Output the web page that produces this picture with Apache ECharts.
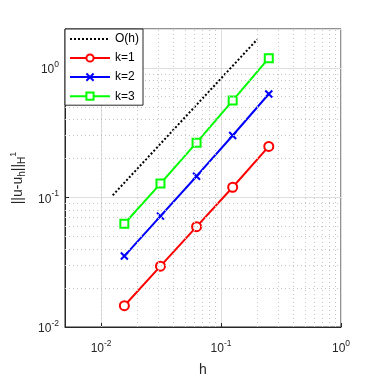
<!DOCTYPE html>
<html>
<head>
<meta charset="utf-8">
<script src="https://cdn.jsdelivr.net/npm/echarts@6/dist/echarts.min.js"></script>
<style>
  html, body { margin: 0; padding: 0; background: #fff; }
  #chart { width: 377px; height: 377px; }
</style>
</head>
<body>
<div id="chart"></div>
<script>
// mesh sizes
const h = [1 / 64, 1 / 32, 1 / 16, 1 / 8, 1 / 4]
// H1 errors
const errK1 = [0.0146, 0.0295, 0.0595, 0.120, 0.248]
const errK2 = [0.0353, 0.0718, 0.146, 0.301, 0.63]
const errK3 = [0.0627, 0.128, 0.265, 0.56, 1.19]
// reference slope line O(h)
const refH = [0.0125, 0.2]
const refVal = [0.104, 1.66]
// minor grid positions
const minorX = [0.006, 0.007, 0.008, 0.009, 0.02, 0.03, 0.04, 0.05, 0.06, 0.07, 0.08, 0.09, 0.2, 0.3, 0.4, 0.5, 0.6, 0.7, 0.8, 0.9]
const minorY = [0.02, 0.03, 0.04, 0.05, 0.06, 0.07, 0.08, 0.09, 0.2, 0.3, 0.4, 0.5, 0.6, 0.7, 0.8, 0.9]

const pairs = (xs, ys) => xs.map((x, i) => [x, ys[i]])
const txt = '#262626'
const font = 'Liberation Sans, Arial, sans-serif'

const powLabel = v => {
  const e = Math.log10(v)
  if (Math.abs(e - Math.round(e)) > 1e-6) return ''
  return '{b|10}{s|' + Math.round(e) + '}'
}
const powRich = {
  b: { fontSize: 12, color: txt, fontFamily: font, lineHeight: 16, verticalAlign: 'bottom' },
  s: { fontSize: 8.5, color: txt, fontFamily: font, lineHeight: 16, verticalAlign: 'top', padding: [0, 0, 7, 0] },
}

let mychart = echarts.init(document.getElementById('chart'))
mychart.setOption({
  animation: false,
  backgroundColor: '#fff',
  grid: {
    left: 65,
    top: 29,
    width: 276,
    height: 298,
    outerBoundsMode: 'none',
    containLabel: false,
    show: true,
    borderColor: txt,
    borderWidth: 1,
    backgroundColor: 'transparent',
  },
  legend: {
    data: [
      { name: 'O(h)', itemStyle: { opacity: 0 } },
      'k=1',
      'k=2',
      'k=3',
    ],
    orient: 'vertical',
    left: 65,
    top: 29,
    backgroundColor: '#fff',
    borderColor: txt,
    borderWidth: 1,
    borderRadius: 0,
    padding: [4, 4, 3, 4],
    itemWidth: 40,
    itemHeight: 9,
    itemGap: 7,
    textStyle: { fontSize: 12, color: '#000', fontFamily: font },
    z: 10,
  },
  xAxis: {
    type: 'log',
    logBase: 10,
    min: 0.005,
    max: 1,
    name: 'h',
    nameLocation: 'middle',
    nameGap: 36,
    nameTextStyle: { fontSize: 14, color: txt, fontFamily: font },
    axisLine: { lineStyle: { color: txt, width: 1 } },
    axisTick: { inside: true, length: 4, lineStyle: { color: txt } },
    axisLabel: { formatter: powLabel, rich: powRich, margin: 12 },
    splitLine: { show: true, lineStyle: { color: '#dedede', width: 1 } },
  },
  yAxis: {
    type: 'log',
    logBase: 10,
    min: 0.01,
    max: 2,
    name: '||u-u{sub|h}||{sub|H}{sup|1}',
    nameLocation: 'middle',
    nameGap: 38,
    nameTextStyle: {
      fontSize: 14, color: txt, fontFamily: font,
      rich: {
        sub: { fontSize: 10, color: txt, fontFamily: font, verticalAlign: 'bottom', lineHeight: 18, padding: [6, 0, 0, 0] },
        sup: { fontSize: 9, color: txt, fontFamily: font, verticalAlign: 'top', lineHeight: 18, padding: [0, 0, 6, 0] },
      },
    },
    axisLine: { lineStyle: { color: txt, width: 1 } },
    axisTick: { inside: true, length: 4, lineStyle: { color: txt } },
    axisLabel: { formatter: powLabel, rich: powRich, margin: 6 },
    splitLine: { show: true, lineStyle: { color: '#dedede', width: 1 } },
  },
  series: [
    {
      name: 'grid',
      type: 'line',
      data: [],
      silent: true,
      z: 1,
      markLine: {
        silent: true,
        symbol: 'none',
        label: { show: false },
        animation: false,
        lineStyle: { color: '#c4c4c4', type: [1, 3], width: 1 },
        data: minorX.map(v => ({ xAxis: v })).concat(minorY.map(v => ({ yAxis: v }))),
      },
    },
    {
      name: 'O(h)',
      type: 'line',
      data: pairs(refH, refVal),
      symbol: 'none',
      color: '#000',
      lineStyle: { color: '#000', width: 2, type: [2, 2] },
      z: 3,
    },
    {
      name: 'k=1',
      type: 'line',
      data: pairs(h, errK1),
      symbol: 'emptyCircle',
      symbolSize: 9,
      color: '#ff0000',
      itemStyle: { color: '#ff0000', borderWidth: 2 },
      lineStyle: { color: '#ff0000', width: 2 },
      z: 3,
    },
    {
      name: 'k=2',
      type: 'line',
      data: pairs(h, errK2),
      symbol: 'path://M0,0 L10,10 M10,0 L0,10',
      symbolSize: 7,
      color: '#0000ff',
      itemStyle: { color: 'none', borderColor: '#0000ff', borderWidth: 2 },
      lineStyle: { color: '#0000ff', width: 2 },
      z: 3,
    },
    {
      name: 'k=3',
      type: 'line',
      data: pairs(h, errK3),
      symbol: 'emptyRect',
      symbolSize: 8,
      color: '#00ff00',
      itemStyle: { color: '#00ff00', borderWidth: 2 },
      lineStyle: { color: '#00ff00', width: 2 },
      z: 3,
    },
  ],
})
</script>
</body>
</html>
